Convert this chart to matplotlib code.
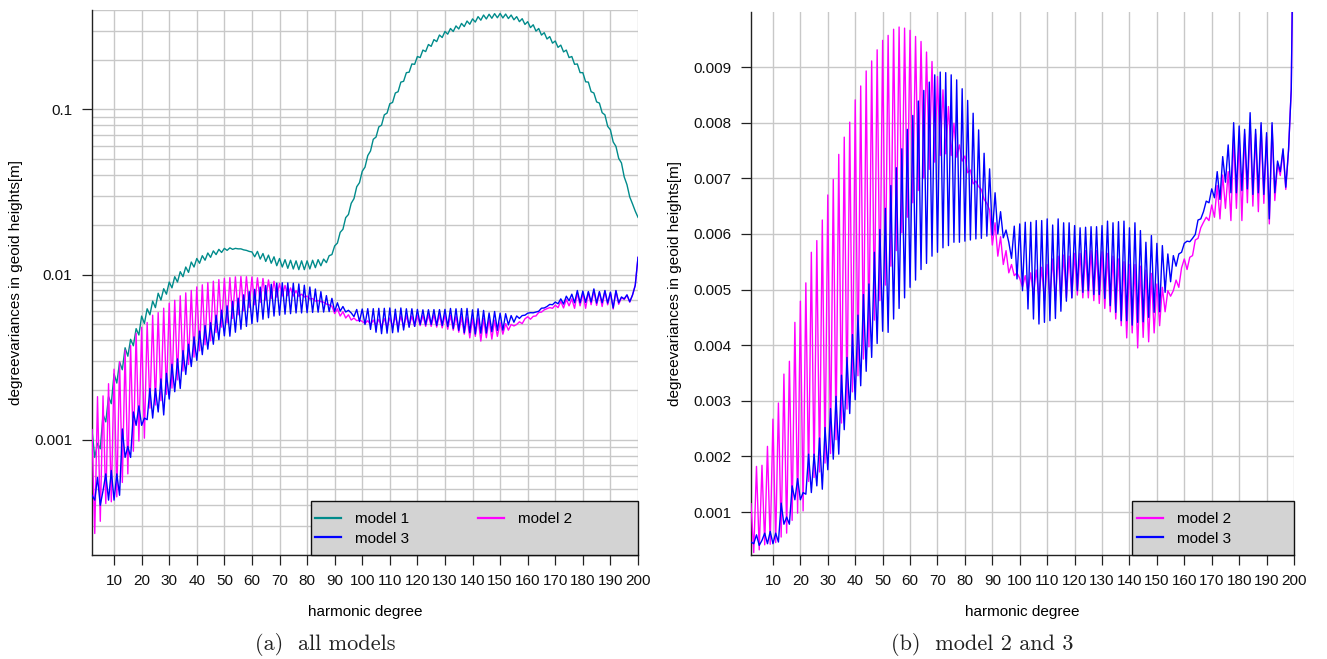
import numpy as np
import matplotlib
matplotlib.use("Agg")
import matplotlib.pyplot as plt
from matplotlib.patches import Rectangle
from matplotlib.lines import Line2D
from matplotlib.ticker import FixedLocator, FixedFormatter, NullFormatter, LogLocator

# ---------------- data ----------------
degrees = list(range(2, 201))

# model 1: degree variances [m]
model1 = [
    0.00114, 0.00078, 0.00095, 0.00088, 0.00142, 0.00128, 0.00182, 0.00165,
    0.00250, 0.00220, 0.00295, 0.00265, 0.00360, 0.00320, 0.00405, 0.00370, 0.00470, 0.00430,
    0.00560, 0.00505, 0.00620, 0.00570, 0.00690, 0.00630, 0.00770, 0.00700, 0.00820, 0.00760,
    0.00900, 0.00830, 0.00970, 0.00900, 0.01040, 0.00970, 0.01110, 0.01030, 0.01190, 0.01110,
    0.01250, 0.01170, 0.01300, 0.01220, 0.01350, 0.01270, 0.01390, 0.01320, 0.01420, 0.01360,
    0.01440, 0.01400, 0.01450, 0.01420, 0.01440, 0.01430, 0.01430, 0.01410, 0.01400, 0.01380,
    0.01370, 0.01280, 0.01380, 0.01240, 0.01340, 0.01200, 0.01310, 0.01170, 0.01280, 0.01130,
    0.01250, 0.01110, 0.01230, 0.01090, 0.01220, 0.01080, 0.01210, 0.01070, 0.01210, 0.01070,
    0.01210, 0.01080, 0.01220, 0.01100, 0.01230, 0.01130, 0.01240, 0.01180, 0.01300, 0.01320,
    0.01490, 0.01550, 0.01800, 0.01880, 0.02210, 0.02310, 0.02700, 0.02880, 0.03400, 0.03600,
    0.0422, 0.0447, 0.0525, 0.0560, 0.0659, 0.0680, 0.0783, 0.0803, 0.0927, 0.0950,
    0.1082, 0.1102, 0.1257, 0.1280, 0.1463, 0.1480, 0.1669, 0.1680, 0.1885, 0.1875,
    0.2091, 0.2060, 0.2287, 0.2240, 0.2472, 0.2410, 0.2647, 0.2575, 0.2822, 0.2725,
    0.2966, 0.2855, 0.3090, 0.2965, 0.3203, 0.3070, 0.3317, 0.3175, 0.3430, 0.3280,
    0.3533, 0.3380, 0.3646, 0.3470, 0.3729, 0.3530, 0.3770, 0.3565, 0.3801, 0.3590,
    0.3811, 0.3580, 0.3780, 0.3550, 0.3729, 0.3490, 0.3646, 0.3400, 0.3543, 0.3270,
    0.3399, 0.3130, 0.3255, 0.2980, 0.3090, 0.2820, 0.2915, 0.2670, 0.2760, 0.2520,
    0.2596, 0.2375, 0.2451, 0.2230, 0.2287, 0.2060, 0.2091, 0.1875, 0.1885, 0.1670,
    0.1669, 0.1470, 0.1463, 0.1280, 0.1257, 0.1110, 0.1092, 0.0955, 0.0927, 0.0790,
    0.0752, 0.0635, 0.0597, 0.0505, 0.0474, 0.0390, 0.0350, 0.0295, 0.0268, 0.0242,
    0.0222,
]

# model 2: degree variances [mm]
model2_mm = [
    1.15, 0.27, 1.82, 0.32, 1.84, 0.41, 2.18, 0.42,
    2.67, 0.45, 2.96, 0.55, 3.48, 0.62, 3.71, 0.85, 4.41, 0.98,
    4.79, 1.02, 5.12, 1.55, 5.67, 1.62, 5.88, 1.72, 6.25, 1.88,
    6.70, 2.05, 6.98, 2.30, 7.43, 2.60, 7.74, 2.85, 8.01, 3.16,
    8.41, 3.45, 8.66, 3.75, 8.93, 3.97, 9.11, 4.45, 9.31, 4.80,
    9.48, 5.08, 9.57, 5.42, 9.68, 5.70, 9.72, 6.02, 9.70, 6.30,
    9.66, 6.56, 9.55, 6.78, 9.46, 7.00, 9.27, 7.16, 9.10, 7.29,
    8.83, 7.41, 8.59, 7.44, 8.29, 7.41, 7.99, 7.38, 7.60, 7.31,
    7.40, 7.10, 7.15, 6.90, 6.95, 6.85, 6.80, 6.62, 6.55, 6.43,
    5.80, 6.20, 5.60, 5.95, 5.45, 5.70, 5.30, 5.45, 5.25, 5.30,
    5.20, 5.05, 5.25, 4.95, 5.30, 4.90, 5.35, 4.85, 5.40, 4.80,
    5.45, 4.85, 5.55, 4.80, 5.60, 4.80, 5.62, 4.85, 5.60, 4.85,
    5.65, 4.90, 5.65, 4.85, 5.70, 4.85, 5.70, 4.80, 5.70, 4.75,
    5.68, 4.66, 5.65, 4.60, 5.60, 4.47, 5.55, 4.35, 5.50, 4.13,
    5.45, 4.22, 5.45, 3.95, 5.42, 4.14, 5.35, 4.06, 5.29, 4.22,
    5.10, 4.35, 5.04, 4.60, 4.98, 4.88, 4.98, 5.17, 5.04, 5.39,
    5.55, 5.36, 5.58, 5.61, 5.89, 5.92, 6.11, 6.21, 6.30, 6.24,
    6.52, 6.30, 6.87, 6.27, 7.06, 6.46, 7.12, 6.24, 7.75, 6.46,
    7.69, 6.24, 7.80, 6.56, 8.00, 6.50, 7.80, 6.40, 7.95, 6.55,
    7.75, 6.18, 7.95, 6.60, 7.25, 7.05, 7.50, 6.80, 7.50, 8.60,
    12.70,
]

# model 3: degree variances [mm]
model3_mm = [
    0.46, 0.43, 0.59, 0.40, 0.49, 0.62, 0.43, 0.65,
    0.43, 0.62, 0.46, 1.16, 0.78, 0.91, 0.78, 1.47, 1.22, 1.60,
    1.22, 1.35, 1.32, 2.04, 1.35, 2.04, 1.47, 2.33, 1.41, 2.52,
    1.76, 2.86, 1.95, 3.08, 2.04, 3.46, 2.48, 3.78, 2.77, 4.19,
    3.02, 4.54, 3.27, 4.91, 3.53, 5.10, 3.78, 5.67, 4.03, 6.08,
    4.25, 6.46, 4.23, 6.87, 4.47, 7.19, 4.66, 7.53, 4.85, 7.88,
    5.04, 8.13, 5.17, 8.39, 5.36, 8.58, 5.47, 8.73, 5.60, 8.86,
    5.67, 8.91, 5.75, 8.90, 5.79, 8.86, 5.85, 8.77, 5.85, 8.61,
    5.87, 8.40, 5.89, 8.17, 5.91, 7.87, 5.92, 7.45, 5.96, 7.17,
    5.98, 6.74, 6.00, 6.40, 5.93, 6.07, 5.85, 5.56, 6.14, 5.19,
    6.18, 4.98, 6.21, 4.65, 6.21, 4.47, 6.24, 4.38, 6.24, 4.41,
    6.27, 4.44, 6.16, 4.48, 6.27, 4.61, 6.20, 4.79, 6.20, 4.85,
    6.15, 4.98, 6.11, 4.95, 6.12, 4.98, 6.13, 4.91, 6.13, 4.91,
    6.15, 4.84, 6.23, 4.71, 6.20, 4.59, 6.22, 4.44, 6.23, 4.44,
    6.11, 4.36, 6.20, 4.41, 6.06, 4.42, 5.85, 4.50, 5.97, 4.59,
    5.83, 4.60, 5.79, 4.95, 5.64, 5.14, 5.61, 5.42, 5.64, 5.67,
    5.83, 5.87, 5.86, 5.92, 5.99, 6.25, 6.27, 6.40, 6.59, 6.56,
    6.81, 6.65, 7.12, 6.62, 7.39, 6.93, 7.60, 6.74, 8.00, 6.74,
    7.94, 6.78, 7.88, 6.81, 8.18, 6.71, 7.88, 6.74, 8.00, 6.71,
    7.82, 6.27, 8.00, 6.74, 7.31, 7.12, 7.53, 6.84, 7.50, 8.60,
    12.70,
]

series_names = ["model 1", "model 2", "model 3"]
series_colors = ["#008B8B", "#FF00FF", "#0000FF"]
x_ticks = list(range(10, 201, 10))
left_y_ticks = [0.001, 0.01, 0.1]
left_y_labels = ["0.001", "0.01", "0.1"]
right_y_ticks = [0.001, 0.002, 0.003, 0.004, 0.005, 0.006, 0.007, 0.008, 0.009]
right_y_labels = ["0.001", "0.002", "0.003", "0.004", "0.005", "0.006", "0.007", "0.008", "0.009"]
captions = ["(a)  all models", "(b)  model 2 and 3"]

assert len(model1) == len(degrees) == len(model2_mm) == len(model3_mm)
m1 = np.array(model1)
m2 = np.array(model2_mm) / 1000.0
m3 = np.array(model3_mm) / 1000.0

# ---------------- figure ----------------
plt.rcParams['font.family'] = ['Liberation Sans', 'DejaVu Sans']
W, H = 1327, 659
fig = plt.figure(figsize=(W / 100, H / 100), dpi=100)

ax1 = fig.add_axes([92 / W, (H - 555) / H, 546 / W, 545 / H])
ax2 = fig.add_axes([751 / W, (H - 555) / H, 543 / W, 543 / H])

GRID = "#c8c8c8"
LW = 1.0


def style(ax):
    for s in ["top", "right"]:
        ax.spines[s].set_visible(False)
    for s in ["left", "bottom"]:
        ax.spines[s].set_linewidth(1.0)
        ax.spines[s].set_color("#222222")
    ax.tick_params(which="major", direction="out", length=7.2, width=0.9,
                   color="#222222", labelsize=11, labelcolor="#111111")
    ax.tick_params(axis="x", which="major", pad=6.5)
    ax.tick_params(axis="y", which="major", pad=7)
    ax.tick_params(which="minor", length=0)
    ax.set_axisbelow(True)
    ax.set_xlim(2, 200)
    ax.xaxis.set_major_locator(FixedLocator(x_ticks))
    ax.set_xticklabels([str(t) for t in x_ticks])
    ax.grid(True, which="major", color=GRID, lw=1.0)


# ----- left panel (log) -----
ax1.set_yscale("log")
ax1.set_ylim(0.0002, 0.4)
ax1.plot(degrees, m1, color=series_colors[0], lw=LW, zorder=3)
ax1.plot(degrees, m2, color=series_colors[1], lw=LW, zorder=3)
ax1.plot(degrees, m3, color=series_colors[2], lw=LW, zorder=3)
style(ax1)
ax1.yaxis.set_major_locator(FixedLocator(left_y_ticks))
ax1.yaxis.set_major_formatter(FixedFormatter(left_y_labels))
ax1.yaxis.set_minor_locator(LogLocator(base=10, subs=range(2, 10)))
ax1.yaxis.set_minor_formatter(NullFormatter())
ax1.grid(True, which="minor", axis="y", color=GRID, lw=1.0)

# ----- right panel (linear) -----
ax2.set_ylim(0.000227, 0.00999)
ax2.plot(degrees, m2, color=series_colors[1], lw=LW, zorder=3)
ax2.plot(degrees, m3, color=series_colors[2], lw=LW, zorder=3)
style(ax2)
ax2.yaxis.set_major_locator(FixedLocator(right_y_ticks))
ax2.yaxis.set_major_formatter(FixedFormatter(right_y_labels))

for ax in (ax1, ax2):
    ax.set_xlabel("harmonic degree", fontsize=11, labelpad=12)
    ax.set_ylabel("degreevariances in geoid heights[m]", fontsize=11, labelpad=8)


# ----- legends: gray box + entries -----
def legend_box(ax, x0, height, names, colors, ncol, entry_x, entry_y, colsp):
    ax.add_patch(Rectangle((x0, 0), 1 - x0, height, transform=ax.transAxes,
                           facecolor="#d3d3d3", edgecolor="#111111", lw=1.0,
                           zorder=6, clip_on=False))
    handles = [Line2D([], [], color=c, lw=1.6) for c in colors]
    leg = ax.legend(handles, names, ncol=ncol, loc="center left",
                    bbox_to_anchor=(entry_x, entry_y), frameon=False,
                    fontsize=11, handlelength=1.7, handletextpad=0.95,
                    labelspacing=0.35, columnspacing=colsp, borderpad=0,
                    borderaxespad=0)
    leg.set_zorder(7)
    return leg


legend_box(ax1, 219 / 546, 54 / 545,
           [series_names[0], series_names[2], series_names[1]],
           [series_colors[0], series_colors[2], series_colors[1]],
           2, 223 / 546, 26 / 545, 4.45)
legend_box(ax2, 381 / 543, 54 / 543,
           [series_names[1], series_names[2]],
           [series_colors[1], series_colors[2]],
           1, 386 / 543, 26 / 543, 1.0)

# ----- captions -----
fig.text(325 / W, 1 - 645 / H, captions[0], ha="center", va="center",
         fontfamily="cmr10", fontsize=16, color="#222222")
fig.text(982 / W, 1 - 645 / H, captions[1], ha="center", va="center",
         fontfamily="cmr10", fontsize=16, color="#222222")

fig.savefig("out.png", dpi=100)
